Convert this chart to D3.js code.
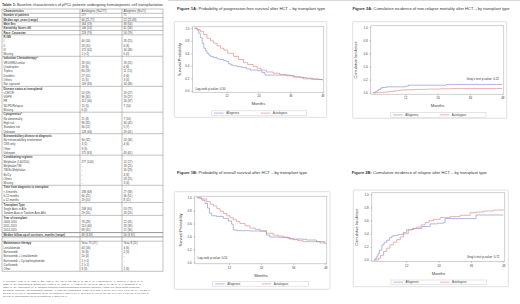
<!DOCTYPE html>
<html><head><meta charset="utf-8">
<script src="https://cdn.jsdelivr.net/npm/d3@7/dist/d3.min.js"></script>
<style>html,body{margin:0;padding:0;background:#fff;}svg{display:block;}</style>
</head><body><svg id="c" width="520" height="304"></svg>
<script>
// ---------------- DATA ----------------
const tableTitleBold = "Table 1:";
const tableTitleRest = " Baseline characteristics of pPCL patients undergoing hematopoietic cell transplantation";
const rowLabels = ["Characteristics","Number of patients","Median age, years (range)","Male Sex","Karnofsky Score ≥90","Race, Caucasian",
 "R-ISS","I","II","III","Missing",
 "Induction Chemotherapy^","VRD/KRD/similar","Quadruplets","Triplets","Doublets","Others","Not captured",
 "Disease status at transplant#","sCR/CR","VGPR","PR","SD/PD/Relapse","Missing",
 "Cytogenetics*","No abnormality","High risk","Standard risk","Unknown",
 "Extramedullary disease at diagnosis","No extramedullary involvement","CNS only","Other","Unknown",
 "Conditioning regimen","Melphalan (140/200)","Melphalan/TBI","TBI/flu Melphalan","Bu/Cy","Others","Missing",
 "Time from diagnosis to transplant","< 6 months","6-12 months","≥ 12 months",
 "Transplant Type","Single Auto or Allo","Tandem Auto or Tandem Auto-Allo",
 "Year of transplant","2008-2010","2011-2013","2014-2015",
 "Median follow-up of survivors, months (range)","",
 "Maintenance therapy","Lenalidomide","Bortezomib","Bortezomib + Lenalidomide","Bortezomib + Cyclophosphamide","Carfilzomib","Other"];
const autoVals = ["Autologous (N=277)","277","60 (25-77)","164 (59)","146 (53)","218 (79)",
 "","40 (14)","28 (10)","172 (62)","1 (<1)",
 "","28 (10)","18 (6)","80 (29)","27 (10)","15 (5)","109 (39)",
 "","54 (19)","96 (35)","112 (40)","15 (5)","0 (0)",
 "","21 (8)","98 (35)","30 (11)","128 (46)",
 "","90 (32)","3 (1)","9 (3)","175 (63)",
 "","277 (100)","-","-","-","-","-",
 "","188 (68)","60 (22)","29 (10)",
 "","248 (90)","29 (10)",
 "","78 (28)","110 (40)","89 (32)",
 "48 (3-83)","",
 "Yes= 75 (27)","44 (16)","16 (6)","10 (4)","1 (<1)","2 (<1)","8 (3)"];
const alloVals = ["Allogeneic (N=71)","71","52 (22-68)","38 (54)","41 (58)","56 (79)",
 "","18 (25)","6 (8)","34 (48)","0 (0)",
 "","18 (25)","4 (6)","11 (15)","4 (6)","3 (4)","34 (48)",
 "","19 (27)","19 (27)","26 (37)","7 (10)","",
 "","7 (10)","30 (42)","5 (7)","29 (41)",
 "","24 (34)","4 (6)","-","43 (61)",
 "","12 (17)","18 (25)","16 (23)","4 (6)","18 (25)","3 (4)",
 "","27 (38)","36 (51)","8 (11)",
 "","53 (75)","18 (25)",
 "","22 (31)","28 (39)","21 (30)",
 "50 (3-91)","",
 "Yes= 8 (11)","4 (6)","2 (3)","-","-","-","1 (6)"];
const groupHeads = [6,11,18,24,29,34,41,45,48,54];
const footnote = [
 "a. For auto: [ VTD (n=3); VRD (n=28); VCD (n=24); VD (n=13); RD (n=3); TD (n=3); VAD/similar (n=4); (pam (n=9); BVIP (n=1);",
 "Other (n=2)], carfilzomib 2) and for allo: [VTD (n=3); VRD (n=4); VCD (n=3); VD (n=2); RD (n=1); TD (n=1); VAD/similar (n=3);",
 "Other (n=2)], carfilzomib (1). b. CR/sCR complete response/stringent complete response, VGPR very good partial response,",
 "PR partial response, PD progressive disease. c. High risk cytogenetics (HRC) 98 in auto: t (11;14) 17 t (4;14) 7 t(14;16) 8 + (14;20) 1;",
 "del 17p 3; t(14;16) 1; chromosome 1q 11; 1p deletion 1; and t(4;14) 1; 30 in allo: t(4;14) 5; t(14;16) 1 t (4;14) 3; t(14;16) 3 t (14;20) 1;",
 "del 17p 3; chromosome 1q 13; hypodiploidy 1 and t(4;8) 1."];

const monthTicks = [12,24,36,48];
const probTicks = [0,0.2,0.4,0.6,0.8,1.0];
const seriesNames = ["Allogeneic","Autologous"];

// Figure 1A PFS
const pfsAlloT = [0,1,1.6,2.2,2.9,3.5,4.1,4.7,5.4,6,7,8.5,9.5,11,12,12.8,13.8,14.7,16,17.8,19.5,21,23.7,25.3,26.5,32,35.9,37.5,39.6,42,44.6,46.5,48];
const pfsAlloS = [1,0.97,0.92,0.85,0.76,0.68,0.64,0.6,0.57,0.55,0.53,0.51,0.5,0.48,0.47,0.43,0.41,0.4,0.385,0.37,0.35,0.33,0.32,0.29,0.25,0.25,0.24,0.22,0.21,0.2,0.19,0.18,0.17];
const pfsAutoT = [0,1,2.2,3.4,4.7,6,7.2,8.5,9.8,11,12.5,14.7,16.5,18.4,20,22,23.5,25,27,29.6,32,34.6,37,40.8,44,48];
const pfsAutoS = [1,0.98,0.95,0.9,0.84,0.8,0.76,0.72,0.68,0.65,0.6,0.55,0.5,0.45,0.42,0.39,0.36,0.33,0.3,0.28,0.26,0.24,0.22,0.19,0.18,0.165];
// Figure 1B OS
const osAlloT = [0,1,1.9,3.1,4,4.7,5.6,7.4,9.9,11.8,13,13.6,14.9,19.9,23.6,26,27.3,31,34.7,39.7,41,44.7,47.8];
const osAlloS = [1,0.99,0.96,0.91,0.84,0.76,0.72,0.71,0.68,0.64,0.59,0.5,0.49,0.485,0.48,0.42,0.39,0.385,0.36,0.355,0.345,0.32,0.295];
const osAutoT = [0,1.9,3.7,5,6.2,7.5,8.7,10,11.2,12.4,13.6,14.8,16.1,18,19.9,21.8,23.6,26,28.5,30.4,32.3,34,36,37.8,39.7,43.4,46,48];
const osAutoS = [1,0.98,0.94,0.9,0.87,0.83,0.79,0.755,0.72,0.69,0.66,0.63,0.6,0.565,0.53,0.51,0.49,0.45,0.42,0.405,0.39,0.37,0.35,0.335,0.32,0.32,0.3,0.28];
// Figure 2A NRM
const nrmAlloT = [0,0.9,1.5,2.1,2.8,3.3,5.2,12,13.2,27.4,48];
const nrmAlloS = [0,0.015,0.03,0.05,0.065,0.08,0.09,0.1,0.115,0.125,0.125];
const nrmAutoT = [0,2,4,6,8,10,12,15,20,25,30,48];
const nrmAutoS = [0,0.005,0.01,0.02,0.03,0.04,0.045,0.05,0.055,0.06,0.065,0.065];
// Figure 2B Relapse
const relAlloT = [0,0.5,1.1,1.6,2.1,3,3.8,4.8,5.8,6.7,7.5,9.1,11,12.2,14.7,17.8,20.9,23.6,25.8,26.4,37.5,37.9,48];
const relAlloS = [0,0.02,0.06,0.1,0.15,0.23,0.27,0.3,0.34,0.365,0.375,0.39,0.42,0.46,0.48,0.51,0.55,0.56,0.57,0.63,0.63,0.685,0.685];
const relAutoT = [0,1.7,2.5,3.6,4.8,6,7.2,8.5,9.8,11,12.8,14.3,15.9,17.5,19,20.5,22.1,24.6,28.3,32,35.7,38,40.6,44.3,48];
const relAutoS = [0,0.025,0.07,0.13,0.18,0.23,0.27,0.31,0.35,0.4,0.46,0.48,0.5,0.535,0.57,0.6,0.62,0.645,0.66,0.68,0.72,0.73,0.745,0.76,0.77];

// ---------------- DRAW ----------------
const svg = d3.select("#c");
const FONT = "'Liberation Sans', Arial, sans-serif";
const COL_ALLO = "#8088cc", COL_AUTO = "#d8827c";

svg.append("line").attr("x1",168).attr("x2",520).attr("y1",0.5).attr("y2",0.5).attr("stroke","#d8d8d8").attr("stroke-width",1);

// ---- table ----
const tg = svg.append("g").attr("font-family",FONT).attr("fill","#444");
const tt = tg.append("text").attr("x",2).attr("y",6.3).attr("font-size",3.2).attr("fill","#333").attr("textLength",161).attr("lengthAdjust","spacingAndGlyphs");
tt.append("tspan").attr("font-weight","bold").text(tableTitleBold);
tt.append("tspan").text(tableTitleRest);

const rowY = d3.scaleLinear().domain([0,rowLabels.length]).range([9,9+4.3*rowLabels.length]);
const colX = [2,80,122,163];
const boldRows = new Set([0,1,2,3,4,5,52].concat(groupHeads));
rowLabels.forEach((lab,i)=>{
  const yb = rowY(i)+3.1;
  const b = boldRows.has(i);
  tg.append("text").attr("x",colX[0]+1.5).attr("y",yb).attr("font-size",2.8)
    .attr("font-weight",b?"bold":"normal").text(lab);
  tg.append("text").attr("x",colX[1]+1.5).attr("y",yb).attr("font-size",2.8).text(autoVals[i]);
  tg.append("text").attr("x",colX[2]+1.5).attr("y",yb).attr("font-size",2.8).text(alloVals[i]);
});
const hLines = [0,1,2,3,4,5,6,11,18,24,29,34,41,45,48,52,53,54,rowLabels.length];
hLines.forEach(i=>{
  tg.append("line").attr("x1",colX[0]).attr("x2",colX[3]).attr("y1",rowY(i)).attr("y2",rowY(i))
    .attr("stroke","#777").attr("stroke-width",(i===52||i===53)?0.8:0.45);
});
colX.forEach(x=>{
  tg.append("line").attr("x1",x).attr("x2",x).attr("y1",rowY(0)).attr("y2",rowY(rowLabels.length))
    .attr("stroke","#777").attr("stroke-width",0.45);
});
footnote.forEach((l,i)=>{
  tg.append("text").attr("x",3).attr("y",282+i*3).attr("font-size",2.5).attr("fill","#555").text(l);
});

// ---- panels ----
function panel(cfg){
  const g = svg.append("g").attr("font-family",FONT);
  const t = g.append("text").attr("x",cfg.titleX).attr("y",cfg.titleY).attr("font-size",3.4)
    .attr("fill","#333").attr("textLength",cfg.titleW).attr("lengthAdjust","spacingAndGlyphs");
  t.append("tspan").attr("font-weight","bold").text(cfg.titleBold);
  t.append("tspan").text(cfg.titleRest);
  g.append("rect").attr("x",cfg.box[0]).attr("y",cfg.box[1]).attr("width",cfg.box[2]).attr("height",cfg.box[3])
    .attr("fill","#fff").attr("stroke","#d8d8d8").attr("stroke-width",0.8).attr("rx",0.8);
  const x = d3.scaleLinear().domain([0,48]).range([cfg.x0,cfg.x48]);
  const y = d3.scaleLinear().domain([0,1]).range([cfg.y0,cfg.y1]);
  const fl = cfg.x0-2, fr = cfg.x48+1.5, ft = cfg.y1-1.5, fb = cfg.y0+1.5;
  g.append("rect").attr("x",fl).attr("y",ft).attr("width",fr-fl).attr("height",fb-ft)
    .attr("fill","none").attr("stroke","#a8a8a8").attr("stroke-width",0.55);
  const ax = g.append("g").attr("transform",`translate(0,${fb})`)
    .call(d3.axisBottom(x).tickValues(monthTicks).tickSize(1.3).tickPadding(1.8).tickFormat(d3.format("d")));
  const ay = g.append("g").attr("transform",`translate(${fl},0)`)
    .call(d3.axisLeft(y).tickValues(probTicks).tickSize(1.3).tickPadding(1.8).tickFormat(d3.format(".1f")));
  [ax,ay].forEach(a=>{
    a.select(".domain").remove();
    a.selectAll("line").attr("stroke","#888").attr("stroke-width",0.5);
    a.selectAll("text").attr("font-size",3.0).attr("font-family",FONT).attr("fill","#444");
  });
  g.append("text").attr("x",(cfg.x0+cfg.x48)/2).attr("y",fb+13.2).attr("text-anchor","middle")
    .attr("font-size",4.2).attr("fill","#444").text("Months");
  g.append("text").attr("transform",`translate(${cfg.ylabX},${(ft+fb)/2}) rotate(-90)`).attr("text-anchor","middle")
    .attr("font-size",3.9).attr("fill","#444").text(cfg.ylab);
  const line = d3.line().x(d=>x(d[0])).y(d=>y(d[1])).curve(d3.curveStepAfter);
  [[cfg.alloT,cfg.alloS,COL_ALLO],[cfg.autoT,cfg.autoS,COL_AUTO]].forEach(([T,S,c])=>{
    g.append("path").datum(T.map((tv,i)=>[tv,S[i]])).attr("d",line)
      .attr("fill","none").attr("stroke",c).attr("stroke-width",0.6);
  });
  g.append("text").attr("x",cfg.pX).attr("y",cfg.pY).attr("font-size",3.0).attr("fill","#333")
    .attr("text-anchor",cfg.pAnchor).text(cfg.pText);
  const lx = cfg.leg[0], ly = cfg.leg[1], lw = cfg.leg[2], lh = cfg.leg[3];
  g.append("rect").attr("x",lx).attr("y",ly).attr("width",lw).attr("height",lh)
    .attr("fill","none").attr("stroke","#d4d4d4").attr("stroke-width",0.6);
  const cols = [COL_ALLO,COL_AUTO];
  seriesNames.forEach((n,i)=>{
    const ox = lx + 2.5 + i*46.5;
    g.append("line").attr("x1",ox).attr("x2",ox+9.5).attr("y1",ly+lh/2).attr("y2",ly+lh/2)
      .attr("stroke",cols[i]).attr("stroke-width",0.6);
    g.append("text").attr("x",ox+12).attr("y",ly+lh/2+1).attr("font-size",2.9).attr("fill","#444").text(n);
  });
}

panel({titleX:177,titleY:10,titleW:148,titleBold:"Figure 1A:",titleRest:" Probability of progression-free survival after HCT – by transplant type",
  box:[174.3,21.7,152.4,95.6],x0:194.5,x48:322.3,y0:90.7,y1:28.3,ylabX:181,ylab:"Survival Probability",
  alloT:pfsAlloT,alloS:pfsAlloS,autoT:pfsAutoT,autoS:pfsAutoS,
  pX:195.5,pY:89.5,pAnchor:"start",pText:"Log-rank p-value: 0.50",leg:[211.7,110.8,95,4.6]});
panel({titleX:177,titleY:174.3,titleW:130,titleBold:"Figure 1B:",titleRest:" Probability of overall survival after HCT – by transplant type",
  box:[174.3,191.7,155.7,97.6],x0:196.8,x48:325.3,y0:262.3,y1:197.7,ylabX:181.5,ylab:"Survival Probability",
  alloT:osAlloT,alloS:osAlloS,autoT:osAutoT,autoS:osAutoS,
  pX:197.5,pY:259.4,pAnchor:"start",pText:"Log-rank p-value: 0.51",leg:[212.7,281.6,95.6,4.6]});
panel({titleX:352.5,titleY:10,titleW:157,titleBold:"Figure 2A:",titleRest:" Cumulative incidence of non-relapse mortality after HCT – by transplant type",
  box:[352.7,21.7,154,96.6],x0:372.8,x48:502.3,y0:92.7,y1:27.3,ylabX:357,ylab:"Cumulative Incidence",
  alloT:nrmAlloT,alloS:nrmAlloS,autoT:nrmAutoT,autoS:nrmAutoS,
  pX:499,pY:79.5,pAnchor:"end",pText:"Gray's test p-value: 0.22",leg:[390.7,112.6,95.3,4.6]});
panel({titleX:351.7,titleY:174.3,titleW:135,titleBold:"Figure 2B:",titleRest:" Cumulative incidence of relapse after HCT – by transplant type",
  box:[353.3,190,155,96.7],x0:373.8,x48:503.3,y0:260,y1:194.3,ylabX:357.5,ylab:"Cumulative Incidence",
  alloT:relAlloT,alloS:relAlloS,autoT:relAutoT,autoS:relAutoS,
  pX:499.5,pY:257.6,pAnchor:"end",pText:"Gray's test p-value: 0.72",leg:[391,280,95.7,4.4]});
</script></body></html>
